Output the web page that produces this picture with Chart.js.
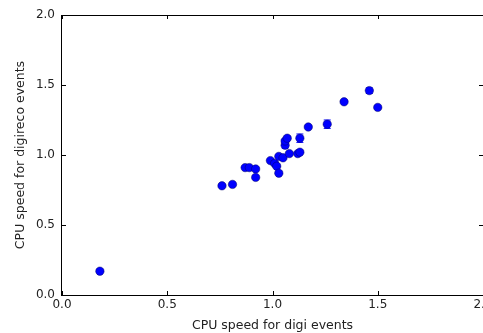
<!DOCTYPE html>
<html>
<head>
<meta charset="utf-8">
<script src="https://cdn.jsdelivr.net/npm/chart.js@4"></script>
<style>
  html, body { margin: 0; padding: 0; background: #fff; overflow: hidden; }
  #wrap { width: 483px; height: 333px; }
</style>
</head>
<body>
<div id="wrap"><canvas id="chart" width="483" height="333"></canvas></div>
<script>
// values
const digiSpeed     = [0.18, 0.76, 0.81, 0.87, 0.89, 0.92, 0.92, 0.99, 1.01, 1.03, 1.05, 1.02, 1.03, 1.06, 1.06, 1.07, 1.08, 1.12, 1.13, 1.13, 1.17, 1.26, 1.34, 1.46, 1.50];
const digirecoSpeed = [0.17, 0.78, 0.79, 0.91, 0.91, 0.90, 0.84, 0.96, 0.94, 0.99, 0.98, 0.92, 0.87, 1.07, 1.10, 1.12, 1.01, 1.01, 1.02, 1.12, 1.20, 1.22, 1.38, 1.46, 1.34];
const digirecoErr   = [0.01, 0.01, 0.01, 0.01, 0.01, 0.01, 0.01, 0.01, 0.01, 0.01, 0.01, 0.01, 0.01, 0.02, 0.01, 0.01, 0.01, 0.01, 0.01, 0.03, 0.01, 0.03, 0.01, 0.02, 0.01];
const xTicks = [0.0, 0.5, 1.0, 1.5, 2.0];
const yTicks = [0.0, 0.5, 1.0, 1.5, 2.0];

const FONT = "'DejaVu Sans', sans-serif";
const points = digiSpeed.map((x, i) => ({ x: x, y: digirecoSpeed[i], err: digirecoErr[i] }));

// error bars drawn under the markers
const errorBars = {
  id: 'errorBars',
  beforeDatasetsDraw(chart) {
    const ctx = chart.ctx, xs = chart.scales.x, ys = chart.scales.y;
    ctx.save();
    ctx.strokeStyle = '#0000ff';
    ctx.lineWidth = 1;
    points.forEach(p => {
      const px = xs.getPixelForValue(p.x);
      const top = ys.getPixelForValue(p.y + p.err);
      const bot = ys.getPixelForValue(p.y - p.err);
      ctx.beginPath();
      ctx.moveTo(px, top); ctx.lineTo(px, bot);
      ctx.moveTo(px - 3.5, top); ctx.lineTo(px + 3.5, top);
      ctx.moveTo(px - 3.5, bot); ctx.lineTo(px + 3.5, bot);
      ctx.stroke();
    });
    ctx.restore();
  }
};

// matplotlib style frame with inward ticks on all sides
const frame = {
  id: 'frame',
  afterDraw(chart) {
    const ctx = chart.ctx, a = chart.chartArea, xs = chart.scales.x, ys = chart.scales.y;
    ctx.save();
    ctx.strokeStyle = '#000';
    ctx.lineWidth = 1;
    ctx.strokeRect(Math.round(a.left) - 0.5, Math.round(a.top) + 0.5, a.right - a.left + 1, a.bottom - a.top);
    ctx.beginPath();
    xTicks.forEach(v => {
      const px = Math.round(xs.getPixelForValue(v)) + 0.5;
      ctx.moveTo(px, a.bottom); ctx.lineTo(px, a.bottom - 4);
      ctx.moveTo(px, a.top); ctx.lineTo(px, a.top + 4);
    });
    yTicks.forEach(v => {
      const py = Math.round(ys.getPixelForValue(v)) + 0.5;
      ctx.moveTo(a.left, py); ctx.lineTo(a.left + 4, py);
      ctx.moveTo(a.right, py); ctx.lineTo(a.right - 4, py);
    });
    ctx.stroke();
    ctx.restore();
  }
};

new Chart(document.getElementById('chart'), {
  type: 'scatter',
  data: {
    datasets: [{
      data: points,
      backgroundColor: '#0000ff',
      borderColor: '#000066',
      borderWidth: 0.5,
      pointRadius: 4.2,
      pointHoverRadius: 4.2
    }]
  },
  options: {
    responsive: false,
    animation: false,
    layout: { autoPadding: false, padding: { top: 15, right: 0, left: 0, bottom: 0 } },
    plugins: { legend: { display: false }, tooltip: { enabled: false } },
    scales: {
      x: {
        type: 'linear', min: 0, max: 2,
        afterFit(scale) { scale.height = 38; scale.paddingRight = 0; scale.paddingLeft = 0; },
        afterBuildTicks(scale) { scale.ticks = xTicks.map(v => ({ value: v })); },
        grid: { display: false, drawTicks: false, tickLength: 0 },
        border: { display: false },
        ticks: {
          padding: 3, color: '#222', maxRotation: 0, autoSkip: false,
          font: { family: FONT, size: 12 },
          callback: v => v.toFixed(1)
        },
        title: {
          display: true, text: 'CPU speed for digi events', color: '#222',
          font: { family: FONT, size: 12.5 }, padding: { top: 2, bottom: 0 }
        }
      },
      y: {
        type: 'linear', min: 0, max: 2,
        afterFit(scale) { scale.width = 62; },
        afterBuildTicks(scale) { scale.ticks = yTicks.map(v => ({ value: v })); },
        grid: { display: false, drawTicks: false, tickLength: 0 },
        border: { display: false },
        ticks: {
          padding: 7, color: '#222',
          font: { family: FONT, size: 12 },
          callback: v => v.toFixed(1)
        },
        title: {
          display: true, text: 'CPU speed for digireco events', color: '#222',
          font: { family: FONT, size: 12.5 }, padding: { top: 13, bottom: 0 }
        }
      }
    }
  },
  plugins: [errorBars, frame]
});
</script>
</body>
</html>
